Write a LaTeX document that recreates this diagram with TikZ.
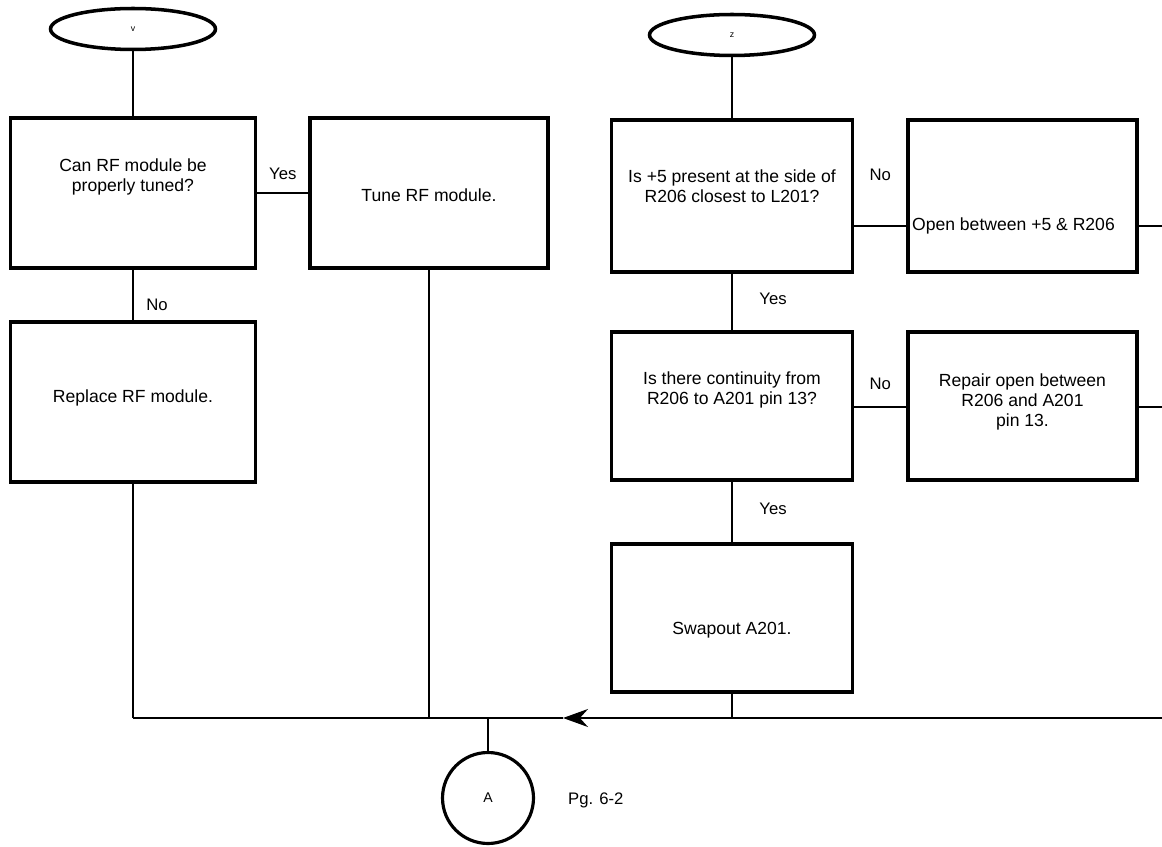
\documentclass[tikz,border=0pt]{standalone}
\usepackage{fontspec}
\setmainfont{Liberation Sans}
\usetikzlibrary{arrows.meta, positioning, shapes.geometric}

\begin{document}
\begin{tikzpicture}[
    x=0.02cm, y=-0.02cm,
    >=Stealth,
    box/.style={draw, line width=1.8pt, minimum width=#1, inner sep=0pt},
    terminal/.style={draw, ellipse, line width=2pt, minimum width=3.3cm, minimum height=0.82cm, inner sep=0pt, font=\tiny},
    connector/.style={draw, circle, line width=1.8pt, minimum size=1.82cm, inner sep=0pt, font=\footnotesize},
    txt/.style={font=\fontsize{10}{11.5}\selectfont, align=center, inner sep=1pt},
    tag/.style={font=\fontsize{9.5}{11}\selectfont, inner sep=1pt},
    wire/.style={line width=1.2pt},
]
\useasboundingbox (0,0) rectangle (1162,847);

% Start terminals
\node[terminal] (startv) at (133,29) {v};
\node[terminal] (startz) at (732,35) {z};

% Left column
\node[box=4.9cm, minimum height=3.0cm] (qtune) at (133,193) {};
\node[txt] (qtune-t) at (133,177) {Can RF module be\\properly tuned?};
\node[box=4.76cm, minimum height=3.0cm] (tune) at (429,193) {};
\node[txt] (tune-t) at (429,195) {Tune RF module.};
\node[box=4.9cm, minimum height=3.2cm] (replace) at (133,402) {};
\node[txt] (replace-t) at (133,398) {Replace RF module.};

% Right column
\node[box=4.82cm, minimum height=3.04cm] (qfive) at (732,196) {};
\node[txt] (qfive-t) at (732,186) {Is +5 present at the side of\\R206 closest to L201?};
\node[box=4.58cm, minimum height=3.04cm] (open) at (1022.5,196) {};
\node[txt, anchor=west] (open-t) at (910,226) {Open between +5 \& R206};
\node[box=4.82cm, minimum height=2.96cm] (qcont) at (732,406) {};
\node[txt] (qcont-t) at (732,390) {Is there continuity from\\R206 to A201 pin 13?};
\node[box=4.58cm, minimum height=2.96cm] (repair) at (1022.5,406) {};
\node[txt] (repair-t) at (1022.5,402) {Repair open between\\R206 and A201\\pin 13.};
\node[box=4.82cm, minimum height=2.96cm] (swap) at (732,618) {};
\node[txt] (swap-t) at (732,630) {Swapout A201.};

% Off-page connector
\node[connector] (offA) at (488,798) {A};
\node[tag, anchor=west] (offA-pg) at (566,800) {Pg. 6-2};

% Return bus
\coordinate (busL) at (133,718);
\coordinate (busR) at (1162,718);
\coordinate (busTip) at (563,718);
\coordinate (edgeT) at (1162,226);
\coordinate (edgeM) at (1162,407);

% Connectors
\draw[wire] (startv) -- (qtune);
\draw[wire] (qtune) -- node[tag, above=6pt, pos=0.5] (yes1) {Yes} (tune);
\draw[wire] (qtune) -- node[tag, right=6pt, pos=0.7] (no1) {No} (replace);
\draw[wire] (replace) -- (busL);
\draw[wire] (tune) -- (tune |- busL);

\draw[wire] (startz) -- (qfive);
\draw[wire] (qfive.east |- open-t) -- node[tag, above=24pt] (no2) {No} (open.west |- open-t);
\draw[wire] (open.east |- open-t) -- (edgeT);
\draw[wire] (qfive) -- node[tag, right=14pt, pos=0.45] (yes2) {Yes} (qcont);
\draw[wire] (qcont.east |- edgeM) -- node[tag, above=8pt] (no3) {No} (repair.west |- edgeM);
\draw[wire] (repair.east |- edgeM) -- (edgeM);
\draw[wire] (qcont) -- node[tag, right=14pt, pos=0.45] (yes3) {Yes} (swap);
\draw[wire] (swap) -- (swap |- busL);

\draw[wire, -{Stealth[length=0.5cm, width=0.36cm]}] (busR) -- (busTip);
\draw[wire] (busTip) -- (busL);
\draw[wire] (offA) -- (offA |- busL);

\end{tikzpicture}
\end{document}
